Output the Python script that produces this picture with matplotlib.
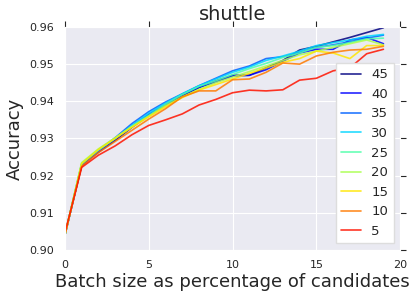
import numpy as np
import matplotlib
matplotlib.use('Agg')
import matplotlib.pyplot as plt
import seaborn as sns

# batch size as % of candidates
batch_pct = list(range(20))
sizes = [45, 40, 35, 30, 25, 20, 15, 10, 5]

acc_45 = [0.9040, 0.9228, 0.9263, 0.9295, 0.9330, 0.9362, 0.9390, 0.9415, 0.9437, 0.9455,
          0.9470, 0.9470, 0.9490, 0.9510, 0.9538, 0.9548, 0.9560, 0.9572, 0.9585, 0.9598]
acc_40 = [0.9040, 0.9228, 0.9265, 0.9298, 0.9333, 0.9365, 0.9392, 0.9417, 0.9438, 0.9452,
          0.9468, 0.9470, 0.9485, 0.9508, 0.9530, 0.9540, 0.9540, 0.9565, 0.9572, 0.9555]
acc_35 = [0.9040, 0.9230, 0.9268, 0.9302, 0.9340, 0.9372, 0.9398, 0.9420, 0.9442, 0.9462,
          0.9482, 0.9495, 0.9515, 0.9520, 0.9532, 0.9545, 0.9552, 0.9560, 0.9570, 0.9578]
acc_30 = [0.9040, 0.9232, 0.9268, 0.9300, 0.9335, 0.9368, 0.9395, 0.9420, 0.9442, 0.9460,
          0.9478, 0.9492, 0.9510, 0.9522, 0.9535, 0.9550, 0.9558, 0.9565, 0.9575, 0.9580]
acc_25 = [0.9040, 0.9232, 0.9270, 0.9300, 0.9333, 0.9362, 0.9392, 0.9418, 0.9440, 0.9455,
          0.9472, 0.9488, 0.9502, 0.9518, 0.9530, 0.9545, 0.9550, 0.9558, 0.9568, 0.9570]
acc_20 = [0.9040, 0.9235, 0.9272, 0.9302, 0.9332, 0.9360, 0.9388, 0.9412, 0.9432, 0.9450,
          0.9465, 0.9480, 0.9495, 0.9510, 0.9525, 0.9535, 0.9545, 0.9555, 0.9565, 0.9552]
acc_15 = [0.9040, 0.9232, 0.9270, 0.9300, 0.9330, 0.9358, 0.9385, 0.9410, 0.9430, 0.9445,
          0.9460, 0.9475, 0.9490, 0.9505, 0.9515, 0.9535, 0.9530, 0.9515, 0.9550, 0.9550]
acc_10 = [0.9040, 0.9225, 0.9262, 0.9292, 0.9322, 0.9352, 0.9380, 0.9412, 0.9428, 0.9428,
          0.9458, 0.9460, 0.9478, 0.9503, 0.9500, 0.9522, 0.9532, 0.9538, 0.9540, 0.9548]
acc_5 = [0.9045, 0.9222, 0.9255, 0.9280, 0.9310, 0.9335, 0.9350, 0.9366, 0.9390, 0.9405,
         0.9423, 0.9430, 0.9428, 0.9431, 0.9457, 0.9462, 0.9482, 0.9490, 0.9528, 0.9540]

series = [acc_45, acc_40, acc_35, acc_30, acc_25, acc_20, acc_15, acc_10, acc_5]

sns.set_style('darkgrid')
plt.rcParams['font.family'] = ['DejaVu Sans']
plt.rcParams.update({
    'xtick.top': True, 'ytick.right': True,
    'xtick.direction': 'out', 'ytick.direction': 'out',
    'xtick.major.size': 4, 'ytick.major.size': 4,
    'xtick.color': '#262626', 'ytick.color': '#262626',
})

fig = plt.figure(figsize=(4.16, 3.0), dpi=100)
ax = fig.add_axes([0.156, 0.167, 0.806, 0.743])

colors = plt.cm.jet(np.linspace(0, 1, 10))[:9]
for s, acc, c in zip(sizes, series, colors):
    ax.plot(batch_pct, acc, color=c, lw=1.2, alpha=0.85, label=str(s))

ax.set_xlim(0, 20)
ax.set_ylim(0.90, 0.96)
ax.set_xticks([0, 5, 10, 15, 20])
ax.set_yticks(np.arange(0.90, 0.9601, 0.01))
ax.set_yticklabels(['0.90', '0.91', '0.92', '0.93', '0.94', '0.95', '0.96'])
ax.tick_params(labelsize=8)

ax.set_title('shuttle', fontsize=14, pad=5)
ax.set_xlabel('Batch size as percentage of candidates', fontsize=13, labelpad=2)
ax.set_ylabel('Accuracy', fontsize=13)

leg = ax.legend(loc='lower right', fontsize=9.5, frameon=True, facecolor='white',
                edgecolor='#dddddd', framealpha=1, handlelength=1.5, borderaxespad=0.5)
leg.get_frame().set_boxstyle('square', pad=0)

fig.savefig('out.png', dpi=100)
